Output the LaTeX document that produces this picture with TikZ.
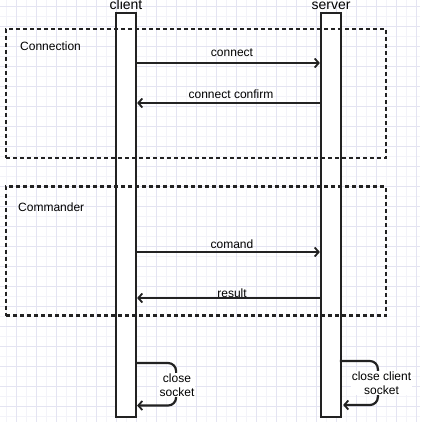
\documentclass[tikz,border=0pt]{standalone}
\usepackage{fontspec}
\setmainfont{Liberation Sans}
\usetikzlibrary{arrows.meta}
\definecolor{gridmajor}{RGB}{228,228,242}
\definecolor{gridminor}{RGB}{243,243,249}
\definecolor{linegray}{RGB}{34,34,34}
\tikzset{
  lifeline/.style={draw=linegray, line width=2.2pt, fill=white, minimum width=20pt, minimum height=404pt, inner sep=0pt},
  groupbox/.style={draw=linegray, line width=2.2pt, dash pattern=on 4pt off 3pt, minimum width=380pt, minimum height=129pt, inner sep=0pt},
  msg/.style={draw=linegray, line width=2.2pt, -{Straight Barb[length=4pt,width=9pt,line width=1.8pt]}},
  lbl/.style={font=\fontsize{12}{13.5}\selectfont, inner sep=0pt, align=center},
  title/.style={font=\fontsize{14}{16}\selectfont, inner sep=0pt, anchor=base}
}
\begin{document}
\begin{tikzpicture}[x=1pt, y=-1pt]
    \useasboundingbox[fill=white] (0,0) rectangle (420,422);
    % background grid
    \foreach \k in {0,...,41} {
        \draw[gridminor, line width=0.8pt] (6.7+10*\k,0) -- (6.7+10*\k,422);
        \draw[gridminor, line width=0.8pt] (0,6.7+10*\k) -- (420,6.7+10*\k);
    }
    \foreach \k in {0,...,20} {
        \draw[gridmajor, line width=0.8pt] (16.7+20*\k,0) -- (16.7+20*\k,422);
        \draw[gridmajor, line width=0.8pt] (0,6.7+20*\k) -- (420,6.7+20*\k);
    }
    % lifelines
    \node[lifeline] (client) at (126,215) {};
    \node[lifeline] (server) at (331,215) {};
    \node[title] (clientname) at (126,9.5) {client};
    \node[title] (servername) at (331,9.5) {server};
    % groups
    \node[groupbox] (connbox) at (196,93.5) {};
    \node[groupbox] (cmdbox) at (196,251) {};
    \node[lbl, anchor=west] (conntitle) at (20,46) {Connection};
    \node[lbl, anchor=west] (cmdtitle) at (18,207) {Commander};
    % messages
    \coordinate (m1) at (0,63);
    \coordinate (m2) at (0,103);
    \coordinate (m3) at (0,252);
    \coordinate (m4) at (0,298);
    \draw[msg] (client.east |- m1) -- (server.west |- m1);
    \draw[msg] (server.west |- m2) -- (client.east |- m2);
    \draw[msg] (client.east |- m3) -- (server.west |- m3);
    \draw[msg] (server.west |- m4) -- (client.east |- m4);
    \node[lbl] (connect) at (232,53) {connect};
    \node[lbl] (confirm) at (231,94) {connect confirm};
    \node[lbl] (comand) at (232,244) {comand};
    \node[lbl] (result) at (232,293) {result};
    % closing sockets
    \coordinate (c1) at (0,363);
    \coordinate (c2) at (0,405.5);
    \coordinate (s1) at (0,361);
    \coordinate (s2) at (0,405);
    \draw[msg, rounded corners=8pt] (client.east |- c1) -- ++(39,0) -- ++(0,42.5) -- (client.east |- c2);
    \draw[msg, rounded corners=8pt] (server.west |- s1) ++(20,0) -- ++(38,0) -- ++(0,44) -- ([xshift=1pt]server.east |- s2);
    \node[lbl, fill=white, inner sep=1pt] (closec) at (177,385) {close\\socket};
    \node[lbl, fill=white, inner sep=1pt] (closes) at (381.5,383) {close client\\socket};
\end{tikzpicture}
\end{document}
